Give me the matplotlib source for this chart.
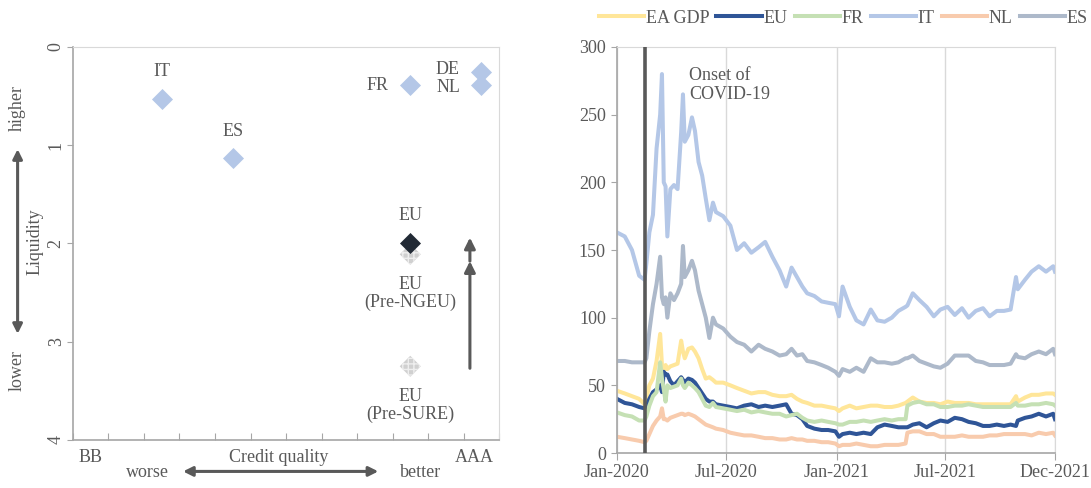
import numpy as np
import pandas as pd
import matplotlib
matplotlib.use("Agg")
import matplotlib.pyplot as plt

plt.rcParams['font.family'] = ['Liberation Serif', 'DejaVu Serif']
plt.rcParams['hatch.linewidth'] = 1.0

# ---- left panel: credit quality vs liquidity ----
countries = ['IT', 'ES', 'FR', 'DE', 'NL']
credit = [2.5, 4.5, 9.5, 11.5, 11.5]        # rating notches above BB
liquidity = [0.53, 1.13, 0.39, 0.25, 0.39]   # liquidity rank (0 = higher)
eu_labels = ['EU', 'EU\n(Pre-NGEU)', 'EU\n(Pre-SURE)']
eu_credit = [9.5, 9.5, 9.5]
eu_liq = [2.0, 2.11, 3.25]
rating_labels = ['BB', 'AAA']
rating_pos = [0.5, 11.3]

# ---- right panel: spreads, bp ----
dates = ['2020-01-01', '2020-01-14', '2020-01-26', '2020-02-07', '2020-02-16', '2020-02-19',
         '2020-02-24', '2020-03-01', '2020-03-07', '2020-03-13', '2020-03-16', '2020-03-19',
         '2020-03-22', '2020-03-25', '2020-03-30', '2020-04-05', '2020-04-11', '2020-04-17',
         '2020-04-20', '2020-04-23', '2020-04-29', '2020-05-05', '2020-05-10', '2020-05-16',
         '2020-05-22', '2020-05-28', '2020-06-03', '2020-06-09', '2020-06-14', '2020-06-26',
         '2020-07-08', '2020-07-19', '2020-07-31', '2020-08-12', '2020-08-24', '2020-09-04',
         '2020-09-16', '2020-09-28', '2020-10-09', '2020-10-18', '2020-10-27', '2020-11-05',
         '2020-11-13', '2020-11-25', '2020-12-07', '2020-12-18', '2020-12-30', '2021-01-05',
         '2021-01-11', '2021-01-23', '2021-02-03', '2021-02-15', '2021-02-27', '2021-03-10',
         '2021-03-22', '2021-04-03', '2021-04-14', '2021-04-26', '2021-04-29', '2021-05-08',
         '2021-05-19', '2021-05-31', '2021-06-12', '2021-06-23', '2021-07-05', '2021-07-17',
         '2021-07-29', '2021-08-09', '2021-08-21', '2021-09-02', '2021-09-13', '2021-09-25',
         '2021-10-07', '2021-10-18', '2021-10-27', '2021-10-30', '2021-11-11', '2021-11-22',
         '2021-12-04', '2021-12-16', '2021-12-28', '2021-12-31']

ea_gdp = [46, 44, 42, 40, 36, 40, 50, 55, 68, 88, 65, 60, 65, 62, 64, 65, 66, 83, 75, 70,
          77, 78, 75, 70, 62, 55, 56, 54, 52, 52, 50, 48, 46, 44, 45, 45, 43, 42, 42, 43,
          40, 38, 37, 35, 35, 34, 33, 31, 33, 35, 33, 34, 35, 35, 34, 34, 35, 37, 38, 41,
          38, 37, 37, 36, 38, 37, 37, 37, 36, 36, 36, 36, 36, 36, 42, 38, 41, 43, 43, 44,
          44, 43]
eu = [40, 37, 36, 34, 33, 34, 40, 45, 47, 50, 45, 60, 58, 58, 53, 50, 53, 56, 54, 52,
      55, 54, 52, 48, 44, 40, 38, 38, 36, 35, 34, 33, 35, 36, 34, 35, 34, 35, 36, 29,
      28, 25, 20, 18, 17, 17, 16, 12, 14, 15, 14, 15, 14, 19, 21, 20, 19, 19, 19, 21,
      22, 19, 22, 24, 23, 26, 25, 23, 22, 20, 20, 21, 20, 21, 20, 24, 26, 27, 29, 27,
      29, 25]
fr = [30, 28, 27, 24, 24, 27, 35, 42, 45, 67, 55, 47, 38, 50, 48, 49, 50, 55, 50, 48,
      52, 50, 48, 45, 40, 35, 34, 37, 34, 33, 32, 31, 32, 30, 31, 30, 29, 29, 27, 28,
      29, 26, 24, 23, 24, 23, 22, 21, 21, 23, 23, 24, 23, 24, 25, 24, 25, 25, 35, 37,
      38, 36, 36, 34, 34, 35, 35, 36, 35, 34, 34, 34, 34, 34, 37, 35, 35, 36, 36, 37,
      36, 35]
it = [163, 160, 150, 131, 128, 140, 163, 176, 225, 250, 280, 200, 197, 160, 195, 198,
      195, 237, 265, 230, 235, 248, 238, 215, 205, 188, 172, 185, 178, 175, 168, 150,
      155, 148, 152, 156, 145, 135, 123, 137, 130, 123, 118, 116, 112, 111, 110, 101,
      123, 108, 98, 95, 106, 98, 97, 100, 105, 108, 109, 118, 113, 108, 101, 106, 108,
      102, 107, 100, 105, 107, 101, 105, 105, 106, 130, 121, 128, 134, 138, 134, 138, 134]
nl = [12, 11, 10, 9, 8, 9, 14, 20, 24, 27, 33, 25, 25, 24, 26, 27, 28, 29, 29, 28,
      29, 28, 27, 25, 23, 21, 20, 19, 18, 17, 15, 14, 13, 13, 12, 11, 11, 10, 10, 11,
      10, 10, 9, 9, 8, 8, 7, 5, 6, 6, 7, 6, 5, 5, 6, 6, 6, 7, 15, 16,
      16, 14, 14, 12, 12, 12, 13, 12, 12, 12, 13, 13, 14, 14, 14, 14, 14, 13, 15, 14,
      15, 13]
es = [68, 68, 67, 67, 67, 70, 90, 110, 125, 145, 115, 110, 115, 100, 118, 113, 118, 125,
      153, 130, 135, 142, 135, 120, 110, 100, 85, 100, 95, 92, 86, 82, 80, 75, 80, 77,
      75, 72, 73, 77, 72, 73, 68, 67, 65, 63, 60, 57, 62, 60, 63, 60, 70, 67, 67, 66,
      67, 70, 70, 72, 68, 66, 64, 63, 66, 72, 72, 72, 68, 67, 65, 65, 65, 66, 73, 71,
      70, 73, 75, 73, 77, 73]

series_names = ['EA GDP', 'EU', 'FR', 'IT', 'NL', 'ES']
series_vals = [ea_gdp, eu, fr, it, nl, es]
series_cols = ['#ffe699', '#2f5597', '#c5e0b4', '#b4c7e7', '#f8cbad', '#adb9ca']
onset = '2020-02-17'
xtick_dates = ['2020-01-01', '2020-07-01', '2021-01-01', '2021-07-01', '2021-12-31']
xtick_labels = ['Jan-2020', 'Jul-2020', 'Jan-2021', 'Jul-2021', 'Dec-2021']

txt = '#595959'
fs = 13

fig = plt.figure(figsize=(10.91, 4.88), dpi=100)

# ================= left panel =================
ax = fig.add_axes([0.0669, 0.0984, 0.3905, 0.8053])
ax.set_xlim(0, 12)
ax.set_ylim(4, 0)
msize = 115
ax.scatter(credit, liquidity, marker='D', s=msize, color='#b4c7e7', linewidth=0, zorder=3)
for i in (2, 1):
    ax.scatter(eu_credit[i], eu_liq[i], marker='D', s=msize, facecolor='#d0d0d0',
               edgecolor='#eeeeee', hatch='+++', linewidth=0, zorder=3)
ax.scatter(eu_credit[0], eu_liq[0], marker='D', s=msize, color='#222a35', linewidth=0, zorder=4)

ax.text(credit[0], liquidity[0] - 0.28, 'IT', ha='center', va='center', fontsize=fs, color=txt)
ax.text(credit[1], liquidity[1] - 0.27, 'ES', ha='center', va='center', fontsize=fs, color=txt)
ax.text(credit[2] - 0.6, liquidity[2], 'FR', ha='right', va='center', fontsize=fs, color=txt)
ax.text(credit[3] - 0.6, liquidity[3] - 0.02, 'DE', ha='right', va='center', fontsize=fs, color=txt)
ax.text(credit[4] - 0.6, liquidity[4] + 0.02, 'NL', ha='right', va='center', fontsize=fs, color=txt)
ax.text(eu_credit[0], eu_liq[0] - 0.28, eu_labels[0], ha='center', va='center', fontsize=fs, color=txt)
ax.text(eu_credit[1], eu_liq[1] + 0.4, eu_labels[1], ha='center', va='center', fontsize=fs,
        color=txt, linespacing=1.1)
ax.text(eu_credit[2], eu_liq[2] + 0.4, eu_labels[2], ha='center', va='center', fontsize=fs,
        color=txt, linespacing=1.1)

arrow = dict(arrowstyle='-|>', color=txt, lw=2.2, mutation_scale=16, shrinkA=0, shrinkB=0)
ax.annotate('', xy=(11.18, 2.18), xytext=(11.18, 3.27), arrowprops=arrow)
ax.annotate('', xy=(11.18, 1.94), xytext=(11.18, 2.18), arrowprops=arrow)

ax.set_xticks(np.arange(0, 13))
ax.set_xticklabels([])
ax.tick_params(axis='x', direction='in', length=5, color='#a6a6a6')
ax.set_yticks([0, 1, 2, 3, 4])
ax.tick_params(axis='y', direction='out', length=4, color='#a6a6a6', labelsize=fs,
               labelcolor=txt, rotation=90, pad=2)
for lab in ax.get_yticklabels():
    lab.set_va('center')
for s in ['top', 'right']:
    ax.spines[s].set_color('#d9d9d9')
for s in ['left', 'bottom']:
    ax.spines[s].set_color('#a6a6a6')
    ax.spines[s].set_linewidth(1.2)

xt = ax.get_xaxis_transform()
for lab, pos in zip(rating_labels, rating_pos):
    ax.text(pos, -0.045, lab, transform=xt, ha='center', va='center', fontsize=fs, color=txt)
ax.text(5.8, -0.045, 'Credit quality', transform=xt, ha='center', va='center', fontsize=fs, color=txt)
ax.text(2.1, -0.083, 'worse', transform=xt, ha='center', va='center', fontsize=fs, color=txt)
ax.text(9.8, -0.083, 'better', transform=xt, ha='center', va='center', fontsize=fs, color=txt)
dbl = dict(arrowstyle='<|-|>', color=txt, lw=2.2, mutation_scale=14, shrinkA=0, shrinkB=0)
ax.annotate('', xy=(3.1, -0.08), xytext=(8.6, -0.08), xycoords=xt, textcoords=xt,
            arrowprops=dbl, annotation_clip=False)

yt = ax.get_yaxis_transform()
ax.text(-0.13, 0.62, 'higher', transform=yt, rotation=90, ha='center', va='center', fontsize=fs, color=txt)
ax.text(-0.13, 3.29, 'lower', transform=yt, rotation=90, ha='center', va='center', fontsize=fs, color=txt)
ax.text(-0.088, 1.98, 'Liquidity', transform=yt, rotation=90, ha='center', va='center', fontsize=fs, color=txt)
ax.annotate('', xy=(-0.13, 1.04), xytext=(-0.13, 2.92), xycoords=yt, textcoords=yt,
            arrowprops=dbl, annotation_clip=False)

# ================= right panel =================
bx = fig.add_axes([0.5655, 0.0717, 0.4015, 0.832])
d = pd.to_datetime(dates)
for name, vals, col in zip(series_names, series_vals, series_cols):
    bx.plot(d, vals, color=col, lw=2.9, label=name, solid_joinstyle='round')
bx.axvline(pd.Timestamp(onset), color=txt, lw=2.6, zorder=5)
bx.text(pd.Timestamp('2020-04-30'), 272, 'Onset of\nCOVID-19', ha='left', va='center',
        fontsize=fs, color=txt, linespacing=1.15)

bx.set_xlim(pd.Timestamp('2020-01-01'), pd.Timestamp('2021-12-31'))
bx.set_ylim(0, 300)
bx.set_yticks(np.arange(0, 301, 50))
bx.set_xticks(pd.to_datetime(xtick_dates))
bx.set_xticklabels(xtick_labels)
bx.grid(axis='x', color='#d9d9d9', lw=1)
bx.tick_params(axis='x', direction='out', length=5, color='#a6a6a6', labelsize=fs,
               labelcolor=txt, pad=3)
bx.tick_params(axis='y', direction='out', length=4, color='#a6a6a6', labelsize=fs,
               labelcolor=txt, pad=4)
for s in ['top', 'right']:
    bx.spines[s].set_color('#d9d9d9')
for s in ['left', 'bottom']:
    bx.spines[s].set_color('#a6a6a6')
    bx.spines[s].set_linewidth(1.2)

fig.legend(*bx.get_legend_handles_labels(), loc='center', bbox_to_anchor=(0.773, 0.963),
           ncol=6, frameon=False, fontsize=fs, handlelength=2.5, handletextpad=0.1,
           columnspacing=0.4, labelcolor=txt)

fig.savefig('out.png', dpi=100)
